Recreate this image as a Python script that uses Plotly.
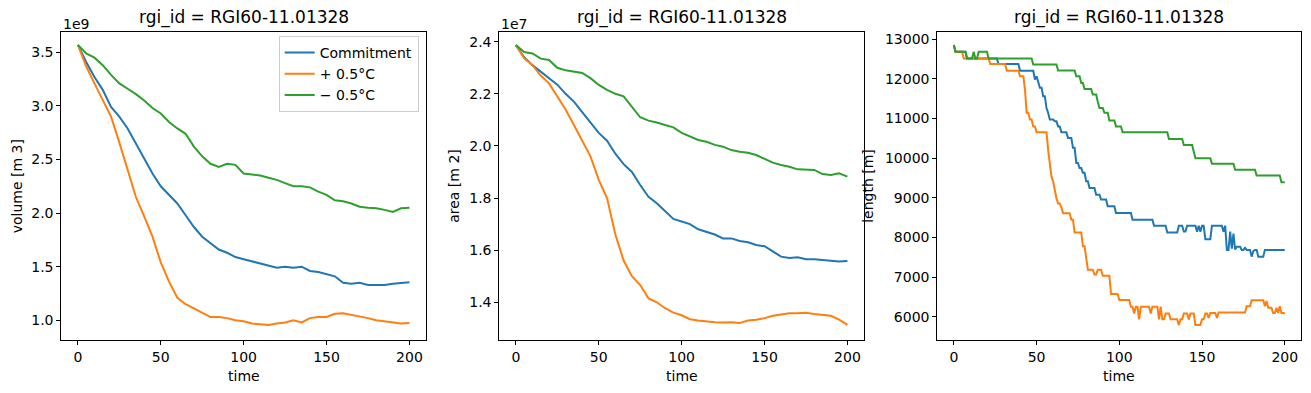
import plotly.graph_objects as go
import numpy as np

# ---------------- data ----------------
years = list(range(0, 201, 5))

# volume, units of 1e9 m3
vol_commitment = [3.57, 3.41, 3.27, 3.15, 2.99, 2.90, 2.79, 2.65, 2.50, 2.37, 2.25, 2.17, 2.09, 1.98, 1.87,
                  1.78, 1.72, 1.66, 1.63, 1.59, 1.57, 1.55, 1.53, 1.51, 1.49, 1.50, 1.49, 1.50, 1.46, 1.45,
                  1.43, 1.41, 1.35, 1.34, 1.35, 1.33, 1.33, 1.33, 1.34, 1.35, 1.355]
vol_plus = [3.57, 3.37, 3.21, 3.06, 2.90, 2.66, 2.41, 2.15, 1.97, 1.78, 1.54, 1.36, 1.21, 1.15, 1.11,
            1.07, 1.03, 1.03, 1.02, 1.00, 0.99, 0.97, 0.965, 0.955, 0.97, 0.98, 1.00, 0.98, 1.02, 1.03,
            1.03, 1.06, 1.065, 1.05, 1.04, 1.02, 1.00, 0.99, 0.98, 0.97, 0.975]
vol_minus = [3.57, 3.49, 3.45, 3.38, 3.29, 3.21, 3.16, 3.11, 3.05, 2.98, 2.93, 2.85, 2.79, 2.74, 2.62,
             2.53, 2.46, 2.43, 2.46, 2.45, 2.37, 2.36, 2.35, 2.33, 2.31, 2.28, 2.25, 2.25, 2.24, 2.20,
             2.17, 2.12, 2.11, 2.09, 2.06, 2.05, 2.045, 2.03, 2.01, 2.045, 2.05]

# area, units of 1e7 m2
area_commitment = [2.387, 2.34, 2.31, 2.285, 2.26, 2.235, 2.20, 2.17, 2.13, 2.09, 2.05, 2.02, 1.97, 1.93, 1.90,
                   1.85, 1.805, 1.78, 1.75, 1.72, 1.71, 1.70, 1.68, 1.67, 1.66, 1.645, 1.645, 1.635, 1.63, 1.62,
                   1.615, 1.595, 1.575, 1.57, 1.573, 1.565, 1.565, 1.562, 1.56, 1.556, 1.558]
area_plus = [2.387, 2.336, 2.31, 2.27, 2.24, 2.19, 2.14, 2.08, 2.02, 1.96, 1.87, 1.80, 1.66, 1.56, 1.50,
             1.466, 1.415, 1.40, 1.377, 1.36, 1.35, 1.335, 1.33, 1.326, 1.323, 1.322, 1.323, 1.32, 1.33, 1.333,
             1.339, 1.348, 1.354, 1.358, 1.358, 1.36, 1.355, 1.351, 1.348, 1.333, 1.313]
area_minus = [2.387, 2.36, 2.355, 2.335, 2.33, 2.30, 2.29, 2.285, 2.28, 2.26, 2.234, 2.215, 2.20, 2.19, 2.15,
              2.11, 2.097, 2.09, 2.08, 2.071, 2.05, 2.035, 2.023, 2.016, 2.004, 1.997, 1.984, 1.978, 1.974, 1.965,
              1.952, 1.936, 1.927, 1.92, 1.91, 1.908, 1.908, 1.892, 1.888, 1.895, 1.882]

# length [m]: annual step series given as (year where the value changes, new value)
len_commitment_t = [0, 1, 8, 27, 40, 49, 50, 51, 52, 54, 56, 57, 58, 61, 63, 65, 69, 72, 74, 76, 78, 80, 82,
                    86, 89, 93, 98, 108, 121, 129, 136, 139, 141, 147, 148, 149, 150, 152, 156, 163, 164,
                    165, 167, 168, 169, 170, 171, 174, 176, 177, 180, 181, 182, 184, 188, 200]
len_commitment_v = [12850, 12680, 12510, 12370, 12200, 11980, 12060, 11900, 11770, 11560, 11260, 11140, 10970,
                    10930, 10800, 10650, 10510, 10260, 9880, 9750, 9630, 9420, 9250, 9080, 8960, 8790, 8620,
                    8450, 8300, 8130, 8300, 8150, 8300, 8150, 8300, 8150, 8300, 7960, 8300, 8150, 8300,
                    7690, 8150, 7720, 8100, 7700, 7770, 7690, 7740, 7690, 7520, 7660, 7690, 7520, 7690, 7690]
len_plus_t = [0, 1, 6, 22, 32, 40, 43, 44, 46, 48, 50, 57, 58, 59, 60, 61, 62, 63, 65, 66, 71, 73, 78, 80,
              81, 85, 87, 90, 95, 100, 107, 109, 110, 112, 113, 119, 120, 124, 125, 126, 128, 131, 136,
              137, 139, 142, 143, 146, 150, 152, 154, 155, 159, 160, 177, 180, 188, 189, 190, 193, 195,
              196, 197, 198, 200]
len_plus_v = [12850, 12680, 12510, 12370, 12200, 12060, 11720, 11140, 10970, 10800, 10650, 10200, 9790, 9540,
              9410, 9160, 8990, 8860, 8760, 8610, 8450, 8130, 7780, 7490, 7190, 7070, 7190, 7040, 6580,
              6430, 6260, 6090, 6260, 5940, 6260, 6090, 6260, 5940, 6260, 5940, 6090, 5940, 5800,
              5940, 6090, 5940, 6090, 5800, 5940, 6090, 5975, 6100, 5975, 6110, 6270, 6420, 6270,
              6400, 6230, 6100, 6230, 6100, 6270, 6100, 6100]
len_minus_t = [0, 1, 8, 12, 13, 15, 21, 48, 63, 74, 77, 79, 84, 87, 88, 91, 94, 98, 102, 130, 139, 145,
               146, 156, 170, 183, 198, 200]
len_minus_v = [12850, 12680, 12510, 12680, 12510, 12680, 12510, 12360, 12210, 12060, 11890, 11740, 11600,
               11420, 11260, 11140, 10950, 10800, 10650, 10480, 10330, 10170, 10000, 9860, 9710, 9560,
               9390, 9390]

series_names = ["Commitment", "+ 0.5°C", "\u2212 0.5°C"]
colors = ["#1f77b4", "#ff7f0e", "#2ca02c"]
title_text = "rgi_id = RGI60-11.01328"


def annual_path(ts, vs):
    """Expand (change-year, value) pairs into annual samples joined by straight lines."""
    xs, ys = [], []
    for i, (t, v) in enumerate(zip(ts, vs)):
        xs.append(t)
        ys.append(v)
        if i + 1 < len(ts) and ts[i + 1] - 1 > t:
            xs.append(ts[i + 1] - 1)
            ys.append(v)
    return xs, ys


# ---------------- figure ----------------
W, H = 1311, 393
FONT = "DejaVu Sans"
fig = go.Figure()

vol = [vol_commitment, vol_plus, vol_minus]
area = [area_commitment, area_plus, area_minus]
lens = [(len_commitment_t, len_commitment_v), (len_plus_t, len_plus_v), (len_minus_t, len_minus_v)]

for i in range(3):
    fig.add_trace(go.Scatter(x=years, y=vol[i], mode="lines", name=series_names[i],
                             line=dict(color=colors[i], width=2), xaxis="x", yaxis="y",
                             showlegend=True))
for i in range(3):
    fig.add_trace(go.Scatter(x=years, y=area[i], mode="lines", name=series_names[i],
                             line=dict(color=colors[i], width=2), xaxis="x2", yaxis="y2",
                             showlegend=False))
for i in range(3):
    lx, ly = annual_path(*lens[i])
    fig.add_trace(go.Scatter(x=lx, y=ly, mode="lines", name=series_names[i],
                             line=dict(color=colors[i], width=2), xaxis="x3", yaxis="y3",
                             showlegend=False))

px_l = [61.3, 499.3, 937.3]
px_r = [426.0, 864.0, 1301.3]
top, bot = 32.3, 340.3
ydom = [1 - bot / H, 1 - top / H]

axis_common = dict(showline=True, mirror=True, linecolor="black", linewidth=1, ticks="outside",
                   ticklen=4, tickwidth=1, tickcolor="black", showgrid=False, zeroline=False,
                   tickfont=dict(family=FONT, size=14, color="black"))

xdefs = {}
for k in range(3):
    key = "xaxis" if k == 0 else f"xaxis{k+1}"
    ykey = "y" if k == 0 else f"y{k+1}"
    xdefs[key] = dict(axis_common, domain=[px_l[k] / W, px_r[k] / W], range=[-10, 210],
                      tickvals=[0, 50, 100, 150, 200], anchor=ykey)

layout = dict(
    width=W, height=H, margin=dict(l=0, r=0, t=0, b=0),
    paper_bgcolor="white", plot_bgcolor="white",
    font=dict(family=FONT, size=14, color="black"),
    showlegend=True,
    legend=dict(x=418.7 / W, y=1 - 36.0 / H, xanchor="right", yanchor="top",
                bgcolor="rgba(255,255,255,0.8)", bordercolor="#cccccc", borderwidth=1,
                font=dict(family=FONT, size=14, color="black"), itemwidth=30),
    yaxis=dict(axis_common, domain=ydom, range=[0.813, 3.687], anchor="x",
               tickvals=[1.0, 1.5, 2.0, 2.5, 3.0, 3.5], tickformat=".1f"),
    yaxis2=dict(axis_common, domain=ydom, range=[1.254, 2.436], anchor="x2",
                tickvals=[1.4, 1.6, 1.8, 2.0, 2.2, 2.4], tickformat=".1f"),
    yaxis3=dict(axis_common, domain=ydom, range=[5413, 13169], anchor="x3",
                tickvals=list(range(6000, 13001, 1000)), tickformat="d"),
)
layout.update(xdefs)
fig.update_layout(**layout)

ann = []
for k in range(3):
    cx = (px_l[k] + px_r[k]) / 2 / W
    ann.append(dict(text=title_text, x=cx, y=1 - 17.5 / H, xref="paper", yref="paper",
                    showarrow=False, xanchor="center", yanchor="middle",
                    font=dict(family=FONT, size=17, color="black")))
    ann.append(dict(text="time", x=cx, y=1 - 376 / H, xref="paper", yref="paper",
                    showarrow=False, xanchor="center", yanchor="middle",
                    font=dict(family=FONT, size=14, color="black")))
ylabels = [("volume [m 3]", 17.0), ("area [m 2]", 454.5), ("length [m]", 868.5)]
for txt, xp in ylabels:
    ann.append(dict(text=txt, x=xp / W, y=1 - 186.3 / H, xref="paper", yref="paper",
                    showarrow=False, xanchor="center", yanchor="middle", textangle=-90,
                    font=dict(family=FONT, size=14, color="black")))
for txt, xp in [("1e9", 61.3), ("1e7", 499.3)]:
    ann.append(dict(text=txt, x=xp / W, y=1 - 23.5 / H, xref="paper", yref="paper",
                    showarrow=False, xanchor="left", yanchor="middle",
                    font=dict(family=FONT, size=14, color="black")))
fig.update_layout(annotations=ann)

fig.write_html("out.html", config={"displayModeBar": False},
               post_script="document.body.style.margin='0';")
